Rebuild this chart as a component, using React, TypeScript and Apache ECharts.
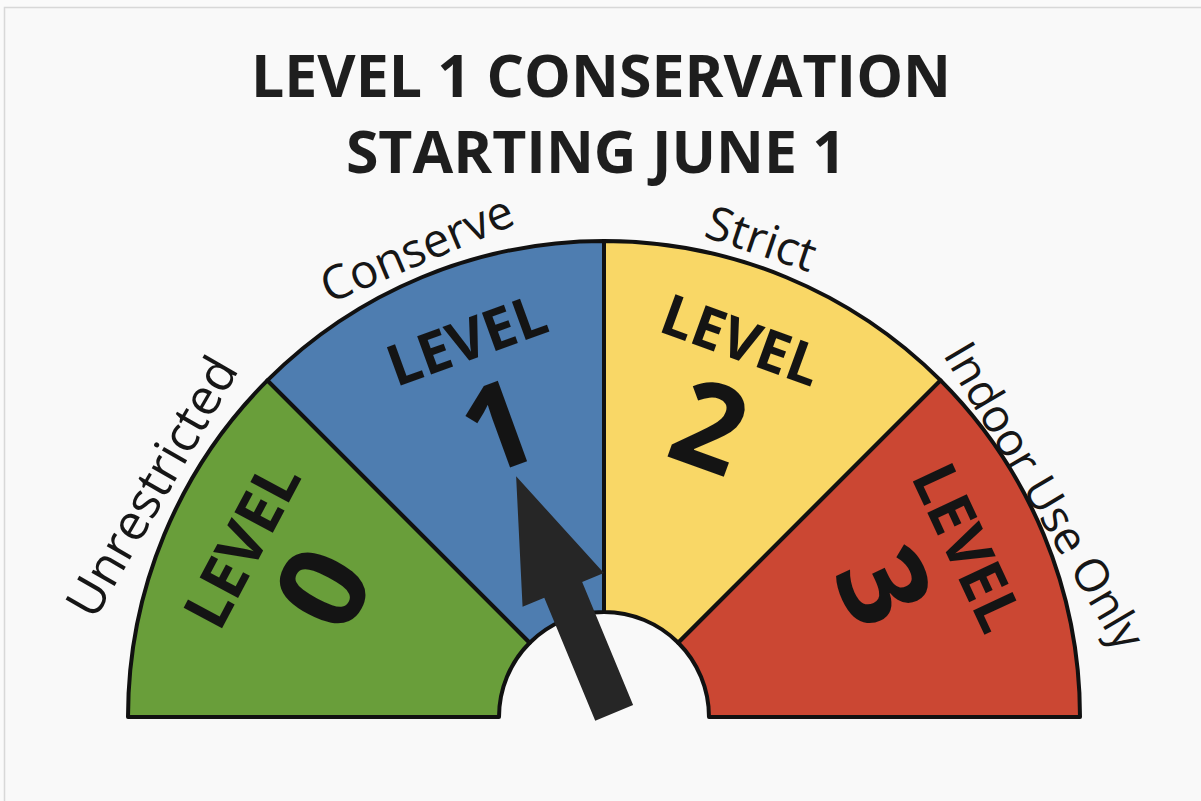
import React, { useEffect, useRef } from "react";
import * as echarts from "echarts";

const titleLines = ["LEVEL 1 CONSERVATION", "STARTING JUNE 1"];
const levelNumbers = ["0", "1", "2", "3"];
const levelNames = ["Unrestricted", "Conserve", "Strict", "Indoor Use Only"];
const levelShares = [1, 1, 1, 1];
const currentLevel = 1.5; // pointer sits in the middle of Level 1
const palette = ["#699e3a", "#4e7db0", "#f9d766", "#cb4733"];

// layout of the texts (polar angle in degrees, radius, text rotation, size)
const badgeAngles = [155, 110, 70, 25];
const badgeRotations = [62, 20, -20, -65];
const badgeWordSizes = [61, 57, 57, 61];
const badgeRadius = 341;
const captionAngles = [153, 111.8, 71.8, 26.7];
const captionRadii = [506, 503, 502, 492];
const captionRotations = [60, 23, -18.6, -59.5];
const captionSizes = [50, 47, 47, 46];

const CX = 604;
const CY = 717;
const FONT = '"Open Sans", "Noto Sans", sans-serif';

export default function App() {
  const ref = useRef<HTMLDivElement>(null);
  useEffect(() => {
    if (!ref.current) return;
    const chart = echarts.init(ref.current, null, { renderer: "svg" });
    const clear = "rgba(0,0,0,0)";
    const badgeSeries = levelNumbers.map((num, i) => ({
      type: "pie",
      center: [CX, CY],
      radius: [badgeRadius - 120, badgeRadius + 120],
      startAngle: badgeAngles[i] + 8,
      endAngle: badgeAngles[i] - 8,
      silent: true,
      itemStyle: { color: clear, borderWidth: 0 },
      labelLine: { show: false },
      label: {
        show: true,
        position: "inside",
        rotate: badgeRotations[i],
        formatter: `{a|LEVEL}\n{b|${num}}`,
        rich: {
          a: { fontSize: badgeWordSizes[i], fontWeight: "bold", lineHeight: 62, fontFamily: FONT, color: "#141414" },
          b: { fontSize: 120, fontWeight: "bold", lineHeight: 118, fontFamily: FONT, color: "#141414" },
        },
      },
      data: [{ value: 1, name: "Level " + num }],
      z: 3,
    }));
    const captionSeries = levelNames.map((name, i) => ({
      type: "pie",
      center: [CX, CY],
      radius: [captionRadii[i] - 10, captionRadii[i] + 10],
      startAngle: captionAngles[i] + 8,
      endAngle: captionAngles[i] - 8,
      silent: true,
      itemStyle: { color: clear, borderWidth: 0 },
      labelLine: { show: false },
      label: {
        show: true,
        position: "inside",
        rotate: captionRotations[i],
        formatter: "{b}",
        fontSize: captionSizes[i],
        fontFamily: FONT,
        color: "#161616",
      },
      data: [{ value: 1, name }],
      z: 3,
    }));
    chart.setOption({
      animation: false,
      backgroundColor: "#fafafa",
      graphic: [
        {
          type: "rect",
          shape: { x: 4.5, y: 7.5, width: 1200, height: 800 },
          style: { fill: "#f9f9f9", stroke: "#d8d8d8", lineWidth: 1.5 },
          z: -10,
        },
        {
          type: "text",
          style: {
            text: titleLines[0],
            x: 601,
            y: 74,
            align: "center",
            verticalAlign: "middle",
            fontSize: 59,
            fontWeight: "bold",
            fontFamily: FONT,
            fill: "#1e1e1e",
          },
        },
        {
          type: "text",
          style: {
            text: titleLines[1],
            x: 596,
            y: 150,
            align: "center",
            verticalAlign: "middle",
            fontSize: 59,
            fontWeight: "bold",
            fontFamily: FONT,
            fill: "#1e1e1e",
          },
        },
      ],
      series: [
        {
          type: "pie",
          center: [CX, CY],
          radius: [105, 476],
          startAngle: 180,
          endAngle: 0,
          silent: true,
          label: { show: false },
          labelLine: { show: false },
          itemStyle: { borderColor: "#111", borderWidth: 4 },
          data: levelShares.map((v, i) => ({
            value: v,
            name: "Level " + levelNumbers[i],
            itemStyle: { color: palette[i] },
          })),
          z: 2,
        },
        ...badgeSeries,
        ...captionSeries,
        {
          type: "gauge",
          center: [CX, CY],
          radius: 476,
          startAngle: 180,
          endAngle: 0,
          min: 0,
          max: levelShares.length,
          silent: true,
          axisLine: { show: false },
          splitLine: { show: false },
          axisTick: { show: false },
          axisLabel: { show: false },
          anchor: { show: false },
          title: { show: false },
          detail: { show: false },
          progress: { show: false },
          pointer: {
            show: true,
            icon: "path://M44 0 L88 123 L64.5 123 L64.5 256 L23.5 256 L23.5 123 L0 123 Z",
            length: 256,
            width: 88,
            offsetCenter: [11, 0],
            keepAspect: false,
            itemStyle: { color: "#262626" },
          },
          data: [{ value: currentLevel, name: "Current level" }],
          z: 10,
        },
      ],
    });
    return () => chart.dispose();
  }, []);
  return (
    <div
      ref={ref}
      style={{ position: "fixed", left: 0, top: 0, width: 1201, height: 801 }}
    />
  );
}
